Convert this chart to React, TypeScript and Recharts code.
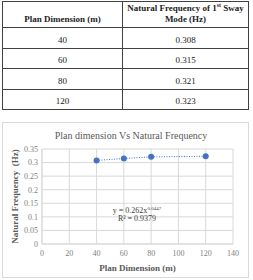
import { ScatterChart, Scatter, XAxis, YAxis, CartesianGrid, Label } from 'recharts';

const planDims = [40, 60, 80, 120];
const freqs = [0.308, 0.315, 0.321, 0.323];
const freqLabels = ['0.308', '0.315', '0.321', '0.323'];
const xTicks = [0, 20, 40, 60, 80, 100, 120, 140];
const yTicks = [0, 0.05, 0.1, 0.15, 0.2, 0.25, 0.3, 0.35];
const chartTitle = 'Plan dimension Vs Natural Frequency';
const xTitle = 'Plan Dimension  (m)';
const yTitle = 'Natural Frequency  (Hz)';

const serif = '"Liberation Serif", "Times New Roman", serif';
const blue = '#4472c4';
const grid = '#d9d9d9';

const points = planDims.map((x, i) => ({ x, y: freqs[i] }));

const cell: React.CSSProperties = {
  border: '1px solid #404040',
  textAlign: 'center',
  verticalAlign: 'bottom',
  padding: '0 0 3px 0',
  fontSize: 9,
  color: '#222',
};

export default function App() {
  return (
    <div style={{ position: 'absolute', left: 0, top: 0, width: 253, height: 280, background: '#fff', fontFamily: serif }}>
      <table
        style={{
          position: 'absolute',
          left: 2,
          top: 1,
          width: 246,
          borderCollapse: 'collapse',
          tableLayout: 'fixed',
        }}
      >
        <colgroup>
          <col style={{ width: 120 }} />
          <col style={{ width: 126 }} />
        </colgroup>
        <tbody>
          <tr style={{ height: 26 }}>
            <td style={{ ...cell, fontWeight: 'bold', paddingBottom: 3 }}>Plan Dimension (m)</td>
            <td style={{ ...cell, fontWeight: 'bold', lineHeight: '11px', paddingBottom: 2 }}>
              Natural Frequency of 1<sup style={{ fontSize: 6, lineHeight: 0 }}>st</sup> Sway
              <br />
              Mode (Hz)
            </td>
          </tr>
          {planDims.map((d, i) => (
            <tr key={d} style={{ height: 20.5 }}>
              <td style={cell}>{d}</td>
              <td style={cell}>{freqLabels[i]}</td>
            </tr>
          ))}
        </tbody>
      </table>

      <div
        style={{
          position: 'absolute',
          left: 2,
          top: 122,
          width: 245,
          height: 154,
          border: '1px solid ' + grid,
        }}
      >
        <ScatterChart width={245} height={154} margin={{ top: 26, right: 15, bottom: 0, left: 0 }}>
          <text x={128} y={16} textAnchor="middle" fontFamily={serif} fontSize={10} fill="#595959">
            {chartTitle}
          </text>
          <CartesianGrid stroke={grid} />
          <XAxis
            type="number"
            dataKey="x"
            domain={[0, 140]}
            ticks={xTicks}
            height={33}
            axisLine={{ stroke: grid }}
            tickLine={false}
            tickSize={4}
            tickMargin={2}
            tick={{ fontSize: 8, fill: '#7f7f7f', fontFamily: serif }}
            interval={0}
          >
            <Label
              value={xTitle}
              position="insideBottom"
              offset={6}
              style={{ fontSize: 9, fontWeight: 'bold', fill: '#595959', fontFamily: serif, whiteSpace: 'pre' }}
            />
          </XAxis>
          <YAxis
            type="number"
            dataKey="y"
            domain={[0, 0.35]}
            ticks={yTicks}
            width={39}
            axisLine={{ stroke: grid }}
            tickLine={false}
            tickSize={4}
            tickMargin={0}
            tick={{ fontSize: 8, fill: '#7f7f7f', fontFamily: serif }}
            interval={0}
            tickFormatter={(v: number) => String(v)}
          >
            <Label
              content={({ viewBox }: any) => {
                const cx = viewBox.x + 12;
                const cy = viewBox.y + viewBox.height / 2;
                return (
                  <text
                    x={cx}
                    y={cy}
                    transform={`rotate(-90 ${cx} ${cy})`}
                    textAnchor="middle"
                    dominantBaseline="central"
                    fontFamily={serif}
                    fontSize={9}
                    fontWeight="bold"
                    fill="#595959"
                    style={{ whiteSpace: 'pre' }}
                  >
                    {yTitle}
                  </text>
                );
              }}
            />
          </YAxis>
          <Scatter
            data={points}
            isAnimationActive={false}
            fill={blue}
            line={{ stroke: blue, strokeWidth: 1, strokeDasharray: '1 1.5' }}
            shape={(p: any) => <circle cx={p.cx} cy={p.cy} r={3} fill={blue} />}
          />
          <text x={134} y={90} textAnchor="middle" fontFamily={serif} fontSize={8} fill="#404040">
            y = 0.262x<tspan dy={-3} fontSize={5}>0.0447</tspan>
          </text>
          <text x={134} y={98} textAnchor="middle" fontFamily={serif} fontSize={8} fill="#404040">
            R² = 0.9379
          </text>
        </ScatterChart>
      </div>
    </div>
  );
}
